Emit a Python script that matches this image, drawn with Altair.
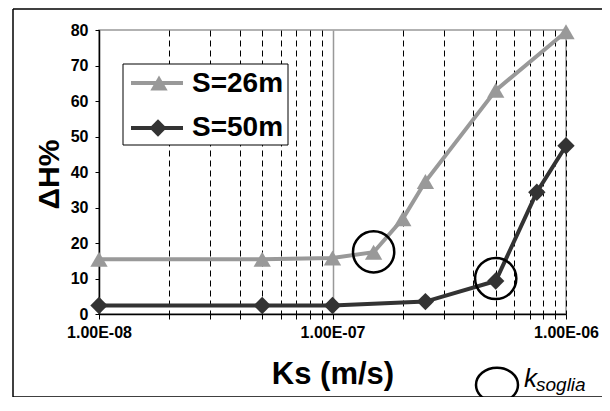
import altair as alt
import pandas as pd

# ---- data ----
series = ["S=26m", "S=50m"]
ks_26 = [1e-8, 5e-8, 1e-7, 1.5e-7, 2e-7, 2.5e-7, 5e-7, 1e-6]
dh_26 = [15.4, 15.4, 15.8, 17.4, 26.8, 37.3, 63.0, 79.5]
ks_50 = [1e-8, 5e-8, 1e-7, 2.5e-7, 5e-7, 7.5e-7, 1e-6]
dh_50 = [2.4, 2.4, 2.4, 3.5, 9.3, 34.3, 47.4]
soglia_ks = [1.5e-7, 5e-7]
soglia_dh = [17.5, 10.0]
x_ticks = [1e-8, 2e-8, 3e-8, 4e-8, 5e-8, 6e-8, 7e-8, 8e-8, 9e-8,
           1e-7, 2e-7, 3e-7, 4e-7, 5e-7, 6e-7, 7e-7, 8e-7, 9e-7, 1e-6]
y_ticks = [0.0, 10.0, 20.0, 30.0, 40.0, 50.0, 60.0, 70.0, 80.0]

FONT = "Liberation Sans"
GRAY = "#999999"
DARK = "#333333"

df = pd.concat([
    pd.DataFrame({"ks": ks_26, "dh": dh_26, "serie": series[0]}),
    pd.DataFrame({"ks": ks_50, "dh": dh_50, "serie": series[1]}),
], ignore_index=True)
df["order"] = range(len(df))
circ = pd.DataFrame({"ks": soglia_ks, "dh": soglia_dh})

is_decade = "abs(log(datum.value)/LN10 - round(log(datum.value)/LN10)) < 0.01"
is_1e7 = "abs(log(datum.value)/LN10 + 7) < 0.01"

x_enc = alt.X(
    "ks:Q",
    scale=alt.Scale(type="log", domain=[1e-8, 1e-6], nice=False),
    axis=alt.Axis(
        values=x_ticks,
        labelExpr=f"{is_decade} ? '1.00E-0' + (-round(log(datum.value)/LN10)) : ''",
        labelFont=FONT, labelFontSize=16, labelFontWeight="bold", labelColor="black",
        labelAlign="center", labelBaseline="top", labelPadding=5,
        labelFlush=False, labelOverlap=False, labelBound=False,
        tickSize=5, tickColor="black", tickWidth=1,
        domainColor="black", domainWidth=1.5,
        grid=True,
        gridColor={"condition": {"test": is_1e7, "value": GRAY}, "value": "black"},
        gridDash={"condition": {"test": is_1e7, "value": []}, "value": [6, 4]},
        gridWidth={"condition": {"test": is_1e7, "value": 1.5}, "value": 1},
        title="Ks (m/s)", titleFont=FONT, titleFontSize=31, titleFontWeight="bold",
        titleColor="black", titleBaseline="alphabetic", titleY=69,
    ),
)
y_enc = alt.Y(
    "dh:Q",
    scale=alt.Scale(domain=[0, 80], nice=False, zero=True),
    axis=alt.Axis(
        values=y_ticks, tickCount=9, grid=False,
        labelFont=FONT, labelFontSize=16, labelFontWeight="bold", labelColor="black",
        labelPadding=7, labelFlush=False, labelOverlap=False,
        tickSize=4, tickColor="black", tickWidth=1,
        domainColor="black", domainWidth=1.5,
        title="ΔH%", titleFont=FONT, titleFontSize=30, titleFontWeight="bold",
        titleColor="black", titleAngle=-90, titleAlign="center",
        titleBaseline="alphabetic", titleX=-41, titleY=144,
    ),
)
color = alt.Color("serie:N", scale=alt.Scale(domain=series, range=[GRAY, DARK]), legend=None)
shape = alt.Shape("serie:N", scale=alt.Scale(domain=series, range=["triangle-up", "diamond"]), legend=None)

base = alt.Chart(df)
lines = base.mark_line(strokeWidth=4).encode(x=x_enc, y=y_enc, color=color, detail="serie:N", order="order:Q")
points = base.mark_point(filled=True, size=300, opacity=1).encode(x=x_enc, y=y_enc, color=color, shape=shape)
circles = alt.Chart(circ).mark_point(shape="circle", size=1700, filled=False, stroke="black",
                                     strokeWidth=2.5, opacity=1).encode(x=x_enc, y=y_enc)

one = alt.Data(values=[{}])
# legend box (decoration, pixel positions)
leg_box = alt.Chart(one).mark_rect(fill="white", stroke="black", strokeWidth=1).encode(
    x=alt.value(24), x2=alt.value(189), y=alt.value(34), y2=alt.value(115))
leg_l1 = alt.Chart(one).mark_rule(color=GRAY, strokeWidth=4).encode(
    x=alt.value(32), x2=alt.value(84), y=alt.value(53))
leg_p1 = alt.Chart(one).mark_point(shape="triangle-up", filled=True, size=300, color=GRAY, opacity=1).encode(
    x=alt.value(60), y=alt.value(53))
leg_l2 = alt.Chart(one).mark_rule(color=DARK, strokeWidth=4).encode(
    x=alt.value(32), x2=alt.value(84), y=alt.value(98))
leg_p2 = alt.Chart(one).mark_point(shape="diamond", filled=True, size=300, color=DARK, opacity=1).encode(
    x=alt.value(59), y=alt.value(98))
leg_t1 = alt.Chart(one).mark_text(text=series[0], font=FONT, fontSize=28, fontWeight="bold",
                                  align="left", baseline="middle", color="black").encode(
    x=alt.value(93), y=alt.value(54))
leg_t2 = alt.Chart(one).mark_text(text=series[1], font=FONT, fontSize=28, fontWeight="bold",
                                  align="left", baseline="middle", color="black").encode(
    x=alt.value(93), y=alt.value(98))

# k_soglia key
k_circ = alt.Chart(one).mark_point(shape="M1,0A1,0.82,0,1,1,-1,0A1,0.82,0,1,1,1,0", size=1764,
                                   filled=False, stroke="black", strokeWidth=2.5, opacity=1).encode(
    x=alt.value(398), y=alt.value(355))
k_t = alt.Chart(one).mark_text(text="k", font=FONT, fontSize=26, fontStyle="italic",
                               align="left", baseline="alphabetic", color="black").encode(
    x=alt.value(425), y=alt.value(357))
k_sub = alt.Chart(one).mark_text(text="soglia", font=FONT, fontSize=19, fontStyle="italic",
                                 align="left", baseline="alphabetic", color="black").encode(
    x=alt.value(437), y=alt.value(361))

# outer frame
b_top = alt.Chart(one).mark_rule(color="black", strokeWidth=1.5).encode(
    x=alt.value(-86), x2=alt.value(510), y=alt.value(-21))
b_left = alt.Chart(one).mark_rule(color="black", strokeWidth=1.5).encode(
    x=alt.value(-86), y=alt.value(-21), y2=alt.value(367))
b_bot = alt.Chart(one).mark_rule(color="black", strokeWidth=1.5).encode(
    x=alt.value(-86), x2=alt.value(510), y=alt.value(367))

chart = alt.layer(
    lines, points, circles,
    leg_box, leg_l1, leg_p1, leg_l2, leg_p2, leg_t1, leg_t2,
    k_circ, k_t, k_sub, b_top, b_left, b_bot,
).properties(
    width=467, height=284,
    autosize=alt.AutoSizeParams(type="none"),
    padding={"left": 91, "top": 22, "right": 36, "bottom": 83},
    background="white",
).configure_view(stroke=GRAY, strokeWidth=1.5)

chart.save("out.html", embed_options={"renderer": "svg", "actions": False})
